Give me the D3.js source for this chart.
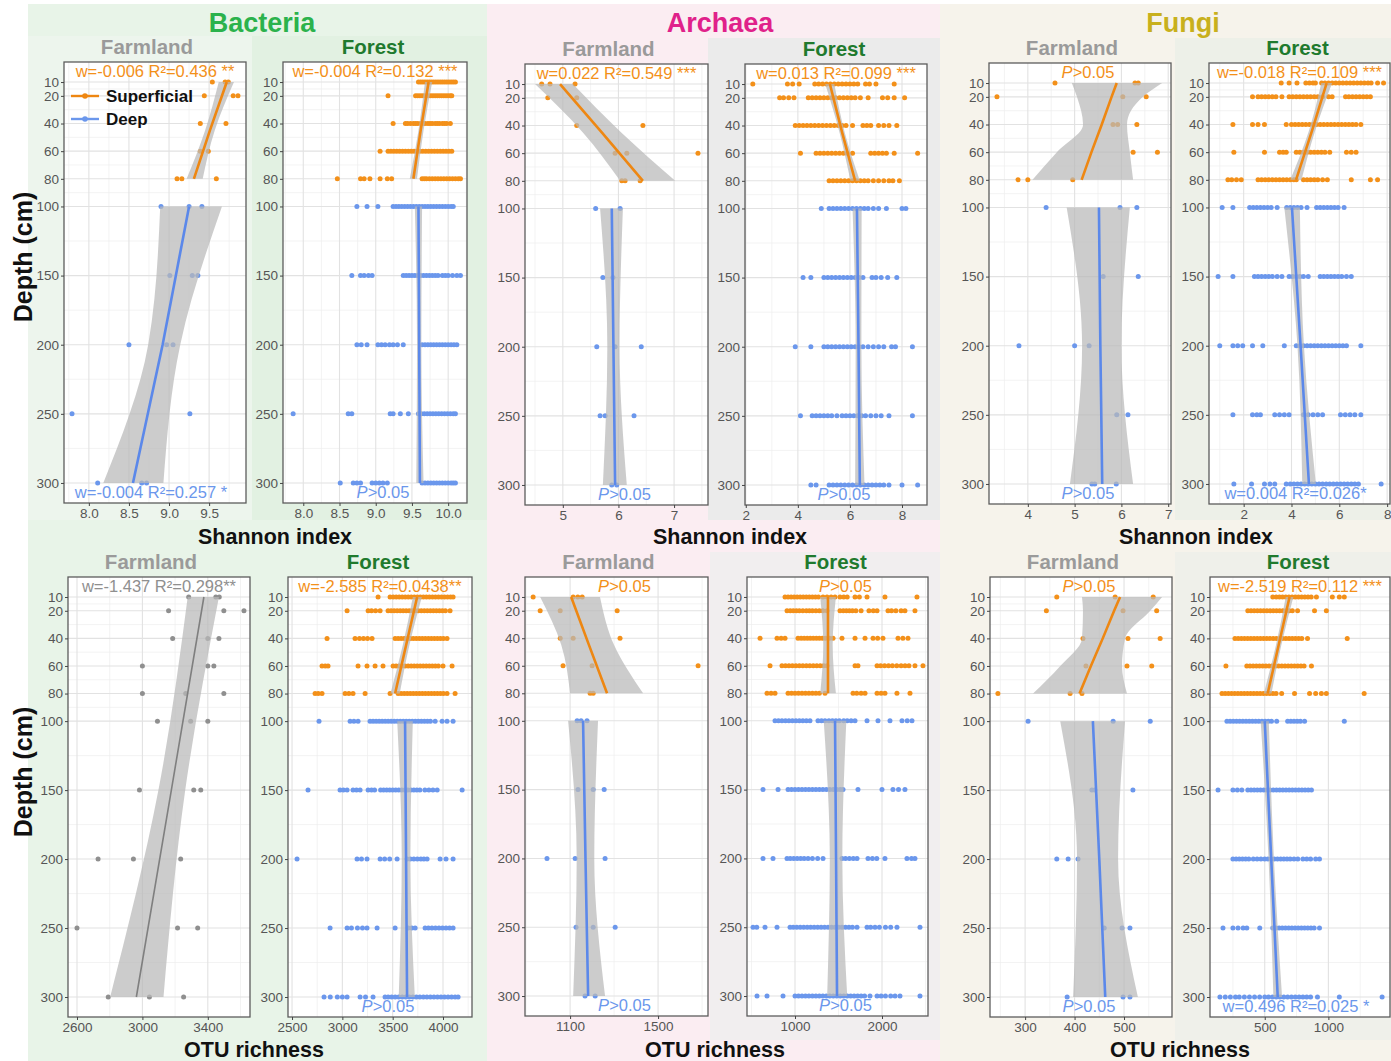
<!DOCTYPE html>
<html>
<head>
<meta charset="utf-8">
<script src="https://cdn.jsdelivr.net/npm/d3@7"></script>
<style>
  body { margin: 0; background: #ffffff; }
  svg { display: block; }
  text { font-family: "Liberation Sans", Arial, Helvetica, sans-serif; }
</style>
</head>
<body>
<svg id="chart" width="1391" height="1061"></svg>
<script>
// ---------------------------------------------------------------
// Sampling depths (cm); every point array below has one row per depth
// ---------------------------------------------------------------
const depthBreaks = [10, 20, 40, 60, 80, 100, 150, 200, 250, 300];
const depthMinor = [15, 30, 50, 70, 90, 125, 175, 225, 275];

// ---------------- Shannon index ----------------
const bacFarmShannon = [
  [9.54, 9.70, 9.74], [9.44, 9.80, 9.86], [9.39, 9.71], [9.39, 9.49], [9.10, 9.16, 9.59],
  [8.90, 9.25, 9.41], [9.01, 9.29, 9.36], [8.50, 8.97, 9.05], [7.79, 9.26], [8.11, 8.66, 8.72]
];
const bacForestShannon = [
  [9.59,9.62,9.65,9.68,9.71,9.74,9.77,9.80,9.83,9.86,9.89,9.92,9.95,9.98,10.01,10.04,10.07,10.10],
  [9.17,9.55,9.58,9.61,9.64,9.67,9.70,9.73,9.76,9.79,9.82,9.85,9.88,9.91,9.94,9.97,10.00,10.03,10.05],
  [9.24,9.41,9.44,9.48,9.52,9.55,9.58,9.62,9.65,9.68,9.72,9.75,9.78,9.82,9.85,9.88,9.92,9.95,9.98,10.03],
  [9.06,9.17,9.21,9.25,9.29,9.33,9.37,9.41,9.45,9.49,9.53,9.57,9.61,9.65,9.69,9.73,9.77,9.81,9.85,9.89,9.93,9.97,10.01,10.05],
  [8.47,8.79,8.84,8.92,9.06,9.16,9.22,9.64,9.67,9.70,9.74,9.78,9.82,9.86,9.90,9.94,9.98,10.02,10.06,10.10,10.14,10.17],
  [8.74,8.88,9.03,9.24,9.28,9.32,9.36,9.40,9.44,9.48,9.52,9.56,9.60,9.64,9.68,9.72,9.76,9.80,9.84,9.88,9.92,9.96,10.00,10.04,10.07],
  [8.67,8.79,8.84,8.90,8.95,9.38,9.42,9.46,9.50,9.54,9.58,9.62,9.66,9.70,9.74,9.78,9.82,9.86,9.92,9.96,10.00,10.06,10.12,10.17],
  [8.74,8.80,8.88,9.03,9.08,9.13,9.19,9.24,9.30,9.38,9.64,9.68,9.72,9.76,9.80,9.84,9.88,9.92,9.96,10.00,10.04,10.08,10.12],
  [7.86,8.62,8.67,9.20,9.24,9.34,9.45,9.59,9.63,9.67,9.71,9.75,9.79,9.83,9.87,9.91,9.95,9.99,10.03,10.07,10.10],
  [8.51,8.69,8.74,8.79,8.95,9.00,9.05,9.10,9.16,9.64,9.68,9.72,9.76,9.80,9.84,9.88,9.92,9.96,10.00,10.04,10.07,10.10]
];
const archFarmShannon = [
  [4.62, 4.77, 5.22], [4.73, 5.25], [5.25, 6.44], [5.94, 6.15, 7.43], [6.06, 6.12, 6.39],
  [5.59, 6.03], [5.72, 5.90], [5.61, 5.94, 6.41], [5.67, 5.76, 6.28], [5.88, 5.97]
];
const archForestShannon = [
  [2.27,3.60,3.80,4.05,4.65,4.80,4.95,5.10,5.25,5.40,5.55,5.70,5.85,6.00,6.15,6.30,6.60,6.75,7.00,7.70],
  [3.30,3.45,3.65,3.85,4.40,4.55,4.70,4.85,5.00,5.15,5.30,5.45,5.60,5.75,5.90,6.05,6.20,6.40,6.70,7.25,7.45,7.70,8.10],
  [3.90,4.05,4.20,4.35,4.50,4.65,4.80,4.95,5.10,5.25,5.40,5.55,5.70,5.85,6.10,6.50,6.65,6.80,7.10,7.30,7.50,7.80],
  [4.10,4.70,4.85,5.00,5.15,5.30,5.45,5.60,5.75,5.90,6.10,6.80,6.95,7.10,7.25,7.40,7.70,8.60],
  [5.20,5.35,5.50,5.65,5.80,5.95,6.10,6.25,6.40,6.55,6.70,6.90,7.10,7.30,7.50,7.65,7.90],
  [4.90,5.20,5.35,5.50,5.65,5.80,5.95,6.10,6.25,6.40,6.55,6.70,6.90,7.10,7.40,8.00,8.15],
  [4.20,4.50,5.00,5.15,5.30,5.45,5.60,5.75,5.90,6.05,6.20,6.35,6.50,6.85,7.00,7.20,7.45,7.80],
  [3.90,4.50,5.00,5.15,5.30,5.45,5.60,5.75,5.90,6.05,6.20,6.35,6.50,6.70,6.90,7.10,7.30,7.60,7.75,8.40],
  [4.10,4.55,4.70,4.85,5.00,5.15,5.30,5.50,5.70,5.85,6.00,6.15,6.30,6.45,6.60,6.80,7.00,7.20,7.50,8.40],
  [4.50,4.70,5.20,5.35,5.50,5.65,5.80,5.95,6.10,6.25,6.40,6.55,6.70,6.85,7.00,7.15,7.30,7.50,8.00,8.60]
];
const fungiFarmShannon = [
  [4.58, 6.29, 6.36], [3.34, 6.03, 6.53], [5.82, 5.92, 6.33], [6.25, 6.77], [3.79, 4.00, 4.96],
  [4.39, 5.97, 6.33], [5.61, 6.36], [3.81, 5.00, 5.31], [5.90, 6.14], [5.37, 5.43, 5.89]
];
const fungiForestShannon = [
  [3.57,3.90,4.23,4.60,4.75,4.90,5.00,5.26,5.40,5.55,5.70,5.85,6.00,6.15,6.30,6.45,6.60,6.75,6.90,7.05,7.20,7.33,7.60,7.85],
  [2.37,2.60,2.75,2.90,3.05,3.20,3.35,3.60,3.90,4.05,4.20,4.35,4.50,4.65,4.80,4.95,5.10,5.30,5.55,5.70,6.26,6.40,6.55,6.70,6.85,7.00,7.15,7.30],
  [1.55,2.37,2.60,2.87,3.78,4.00,4.15,4.30,4.45,4.60,4.75,4.90,5.05,5.20,5.35,5.50,5.65,5.80,5.95,6.10,6.25,6.40,6.55,6.70,6.90],
  [1.59,2.87,3.50,3.65,3.78,4.20,4.35,4.50,4.65,4.80,4.95,5.10,5.25,5.40,5.60,6.30,6.50,6.70],
  [1.34,1.50,1.70,1.90,2.60,2.75,2.90,3.05,3.20,3.35,3.50,3.65,3.80,3.95,4.10,4.20,4.50,4.65,4.80,4.95,5.10,5.30,5.50,6.50,7.30,7.60],
  [1.10,1.55,2.25,2.40,2.55,2.70,2.85,3.00,3.15,3.40,3.80,3.95,4.10,4.25,4.40,4.65,5.05,5.20,5.35,5.50,5.65,5.80,5.95,6.20],
  [0.93,1.55,2.45,2.60,2.75,2.90,3.05,3.20,3.40,3.60,3.90,4.05,4.20,4.35,4.50,4.70,5.20,5.35,5.50,5.65,5.80,5.95,6.10,6.30,6.50],
  [1.00,1.55,1.75,1.96,2.37,2.80,3.70,4.20,4.35,4.50,4.65,4.80,4.95,5.10,5.25,5.40,5.55,5.70,5.85,6.00,6.15,6.30,6.90],
  [1.55,2.37,2.55,2.70,3.30,3.50,3.70,3.90,4.50,4.70,4.90,5.10,5.30,6.05,6.25,6.45,6.65,6.90],
  [1.59,2.33,2.87,3.10,3.30,3.78,3.95,4.10,4.25,4.40,4.55,4.70,4.85,5.00,5.15,5.30,5.45,5.60,5.75,5.90,6.05,6.20,6.35,6.50,6.65,6.80,7.75]
];

// ---------------- OTU richness ----------------
const bacFarmOTU = [
  [3283, 3449, 3470], [3160, 3498, 3621], [3185, 3400, 3468], [3000, 3400, 3437], [3000, 3265, 3498],
  [3092, 3295, 3400], [2982, 3314, 3357], [2729, 2945, 3234], [2600, 3215, 3338], [2791, 3043, 3252]
];
const bacForestOTU = [
  [3355,3474,3505,3535,3565,3595,3625,3655,3685,3715,3745,3775,3805,3835,3865,3895,3925,3955,3985,4015,4045,4075,4100],
  [3047,3256,3290,3330,3375,3454,3484,3514,3544,3574,3604,3634,3664,3694,3724,3754,3784,3814,3844,3874,3904,3934,3964,3994,4024,4070],
  [2848,3126,3170,3210,3250,3295,3524,3554,3584,3614,3644,3674,3704,3734,3764,3794,3824,3854,3884,3914,3944,3974,4004,4040],
  [2798,2830,2858,3156,3245,3325,3404,3504,3534,3564,3594,3624,3654,3684,3714,3744,3774,3804,3834,3864,3894,3924,3954,4000,4090],
  [2729,2760,2798,3027,3065,3106,3226,3474,3554,3584,3614,3644,3674,3704,3734,3764,3794,3824,3854,3884,3914,3944,3974,4004,4040,4120],
  [2768,3077,3115,3156,3275,3305,3335,3365,3395,3425,3455,3485,3515,3545,3575,3605,3635,3665,3695,3725,3755,3785,3815,3845,3875,3922,3991,4040,4100],
  [2659,2977,3010,3047,3106,3140,3176,3256,3290,3320,3380,3410,3440,3470,3500,3530,3560,3590,3620,3650,3680,3710,3740,3770,3820,3860,3900,3942,4190],
  [2550,3146,3190,3245,3375,3420,3470,3544,3643,3675,3710,3745,3780,3810,3842,3971,4030,4100],
  [2878,3047,3090,3150,3200,3245,3345,3524,3653,3690,3723,3822,3855,3890,3925,3960,3995,4030,4065,4100],
  [2818,2880,2950,3000,3047,3176,3230,3305,3424,3455,3490,3525,3560,3595,3630,3665,3700,3735,3770,3805,3840,3875,3910,3945,3980,4015,4050,4085,4120,4150]
];
const archFarmOTU = [
  [932, 1114, 1135, 1155], [964, 1055, 1314], [1055, 1114, 1327], [1068, 1200, 1682], [1191, 1205],
  [1132, 1150, 1177], [1136, 1205, 1255], [995, 1123, 1259], [1127, 1205, 1305], [1168, 1214]
];
const archForestOTU = [
  [885,920,955,990,1025,1060,1095,1130,1165,1200,1235,1270,1322,1368,1415,1460,1517,1560,1600,1690,1740,1828,2034,2402],
  [908,945,980,1015,1050,1090,1130,1165,1200,1240,1280,1320,1368,1517,1555,1590,1625,1660,1700,1760,1850,1900,1943,2069,2110,2160,2220,2264,2379],
  [598,793,840,885,1034,1070,1105,1140,1175,1210,1245,1280,1315,1350,1395,1437,1540,1690,1805,1897,1950,2011,2184,2240,2299],
  [713,850,890,930,970,1010,1050,1090,1130,1170,1210,1250,1290,1330,1368,1690,1724,1943,1985,2030,2075,2120,2170,2220,2265,2310,2379,2471],
  [678,725,770,920,960,1000,1040,1080,1120,1160,1200,1240,1280,1345,1667,1710,1760,1805,1943,1990,2034,2172,2322],
  [770,810,850,890,930,970,1010,1050,1090,1130,1172,1264,1305,1345,1390,1430,1470,1510,1560,1600,1645,1690,1828,1954,2092,2230,2290,2345],
  [632,805,920,960,1000,1040,1080,1120,1160,1200,1240,1280,1320,1360,1400,1440,1480,1520,1552,1724,2000,2126,2190,2264],
  [632,747,908,945,985,1025,1065,1105,1150,1200,1260,1322,1540,1580,1625,1670,1713,1839,1890,1940,2034,2287,2340,2379],
  [517,560,655,793,943,980,1020,1060,1100,1140,1180,1220,1260,1300,1340,1380,1420,1460,1500,1540,1580,1620,1660,1713,1828,1870,1920,1970,2040,2100,2172,2437],
  [563,678,862,1000,1040,1080,1120,1160,1200,1240,1280,1320,1360,1400,1440,1480,1520,1560,1600,1640,1680,1720,1760,1800,1862,1943,1990,2040,2100,2150,2207,2437]
];
const fungiFarmOTU = [
  [364, 482, 559], [343, 498, 566], [417, 508, 573], [423, 506, 556], [245, 391, 415],
  [306, 478, 553], [435, 441, 518], [364, 387, 407], [460, 496, 512], [385, 498, 512]
];
const fungiForestOTU = [
  [563,590,615,640,665,690,715,740,765,790,815,840,865,906,1031,1086,1125],
  [367,392,417,442,467,492,517,542,567,592,617,642,667,692,717,758,891,984],
  [266,291,316,341,366,391,416,441,466,491,516,541,566,591,616,641,666,691,716,741,766,791,836,1148],
  [195,359,384,409,434,459,484,509,534,559,584,609,634,659,684,709,734,759,784,809,867],
  [164,189,214,239,264,289,314,339,364,389,414,439,464,489,514,539,564,589,633,734,852,900,945,984,1281],
  [203,228,253,278,303,328,353,378,403,428,453,478,503,528,553,594,680,705,730,755,780,813,1125],
  [133,250,285,320,367,392,417,442,467,492,517,542,567,592,617,642,667,692,717,742,767,792,817,842,867],
  [250,275,300,325,350,375,410,440,470,500,525,550,575,600,625,650,675,700,730,760,800,830,860,900,930],
  [172,250,290,330,359,461,563,588,613,638,663,688,713,738,763,788,813,838,863,888,930],
  [148,190,230,270,300,340,380,420,460,500,530,560,590,620,650,680,710,740,770,800,830,860,914,1086,1422]
];

// Linear fits with 95% confidence band: [layer, depth, fit, lower, upper]
const bacFarmShannonFit = [
  ["sup", 10, 9.72, 9.62, 9.81], ["sup", 45, 9.51, 9.45, 9.57], ["sup", 80, 9.31, 9.22, 9.42],
  ["deep", 100, 9.25, 8.89, 9.66], ["deep", 200, 8.92, 8.74, 9.14], ["deep", 300, 8.55, 8.18, 8.93]
];
const bacForestShannonFit = [
  ["sup", 10, 9.73, 9.68, 9.78], ["sup", 45, 9.62, 9.59, 9.66], ["sup", 80, 9.52, 9.47, 9.57],
  ["deep", 100, 9.59, 9.54, 9.64], ["deep", 200, 9.60, 9.57, 9.63], ["deep", 300, 9.61, 9.56, 9.66]
];
const archFarmShannonFit = [
  ["sup", 10, 4.95, 4.50, 5.18], ["sup", 45, 5.70, 5.36, 6.05], ["sup", 80, 6.44, 6.03, 7.02],
  ["deep", 100, 5.88, 5.67, 6.08], ["deep", 200, 5.91, 5.80, 6.02], ["deep", 300, 5.94, 5.72, 6.15]
];
const archForestShannonFit = [
  ["sup", 10, 5.23, 5.05, 5.40], ["sup", 45, 5.70, 5.60, 5.80], ["sup", 80, 6.20, 6.02, 6.38],
  ["deep", 100, 6.27, 6.10, 6.45], ["deep", 200, 6.33, 6.22, 6.44], ["deep", 300, 6.38, 6.20, 6.56]
];
const fungiFarmShannonFit = [
  ["sup", 10, 5.90, 4.94, 6.87], ["sup", 20, 5.79, 5.05, 6.46], ["sup", 40, 5.58, 5.18, 6.12],
  ["sup", 60, 5.36, 4.62, 6.18], ["sup", 80, 5.15, 4.10, 6.25],
  ["deep", 100, 5.52, 4.83, 6.18], ["deep", 200, 5.55, 5.16, 6.00], ["deep", 300, 5.59, 4.90, 6.25]
];
const fungiForestShannonFit = [
  ["sup", 10, 5.47, 5.25, 5.70], ["sup", 45, 4.85, 4.72, 4.98], ["sup", 80, 4.19, 3.95, 4.42],
  ["deep", 100, 4.02, 3.70, 4.35], ["deep", 200, 4.38, 4.25, 4.52], ["deep", 300, 4.73, 4.45, 5.02]
];
const bacFarmOTUFit = [
  ["all", 10, 3376, 3277, 3468], ["all", 150, 3177, 3098, 3262], ["all", 300, 2963, 2803, 3129]
];
const bacForestOTUFit = [
  ["sup", 10, 3743, 3700, 3790], ["sup", 45, 3633, 3600, 3666], ["sup", 80, 3524, 3478, 3570],
  ["deep", 100, 3623, 3545, 3700], ["deep", 200, 3633, 3590, 3676], ["deep", 300, 3643, 3560, 3720]
];
const archFarmOTUFit = [
  ["sup", 10, 1105, 964, 1236], ["sup", 45, 1186, 1060, 1300], ["sup", 80, 1268, 1100, 1432],
  ["deep", 100, 1159, 1091, 1227], ["deep", 200, 1170, 1130, 1210], ["deep", 300, 1182, 1114, 1259]
];
const archForestOTUFit = [
  ["sup", 10, 1379, 1290, 1470], ["sup", 45, 1379, 1325, 1433], ["sup", 80, 1379, 1290, 1470],
  ["deep", 100, 1460, 1330, 1590], ["deep", 200, 1472, 1400, 1544], ["deep", 300, 1483, 1370, 1600]
];
const fungiFarmOTUFit = [
  ["sup", 10, 492, 415, 577], ["sup", 20, 480, 417, 553], ["sup", 40, 457, 415, 502],
  ["sup", 60, 433, 371, 496], ["sup", 80, 410, 316, 506],
  ["deep", 100, 437, 371, 502], ["deep", 200, 450, 405, 488], ["deep", 300, 462, 397, 528]
];
const fungiForestOTUFit = [
  ["sup", 10, 695, 665, 725], ["sup", 45, 609, 588, 630], ["sup", 80, 523, 493, 553],
  ["deep", 100, 500, 468, 532], ["deep", 200, 551, 530, 572], ["deep", 300, 602, 568, 636]
];

// Axis limits and tick labels, panel order: top row (Shannon) then bottom row (OTU)
const xDomains = [
  [7.69, 9.96], [7.72, 10.26], [4.32, 7.61], [1.97, 8.96], [3.17, 7.06], [0.55, 8.12],
  [2545, 3658], [2460, 4288], [895, 1727], [448, 2529], [229, 597], [70, 1484]
];
const xTickValues = [
  [8.0, 8.5, 9.0, 9.5], [8.0, 8.5, 9.0, 9.5, 10.0], [5, 6, 7], [2, 4, 6, 8], [4, 5, 6, 7], [2, 4, 6, 8],
  [2600, 3000, 3400], [2500, 3000, 3500, 4000], [1100, 1500], [1000, 2000], [300, 400, 500], [500, 1000]
];

// Regression statistics printed in each panel
const statsUpper = [
  "w=-0.006 R²=0.436 **", "w=-0.004 R²=0.132 ***", "w=0.022 R²=0.549 ***",
  "w=0.013 R²=0.099 ***", "P>0.05", "w=-0.018 R²=0.109 ***",
  "w=-1.437 R²=0.298**", "w=-2.585 R²=0.0438**", "P>0.05",
  "P>0.05", "P>0.05", "w=-2.519 R²=0.112 ***"
];
const statsLower = [
  "w=-0.004 R²=0.257 *", "P>0.05", "P>0.05", "P>0.05", "P>0.05", "w=0.004 R²=0.026*",
  "", "P>0.05", "P>0.05", "P>0.05", "P>0.05", "w=0.496 R²=0.025 *"
];

const groupTitles = ["Bacteria", "Archaea", "Fungi"];
const landUseTitles = ["Farmland", "Forest"];
const metricTitles = ["Shannon index", "OTU richness"];
const layerNames = ["Superficial", "Deep"];

const pointSets = [bacFarmShannon, bacForestShannon, archFarmShannon, archForestShannon, fungiFarmShannon, fungiForestShannon,
                   bacFarmOTU, bacForestOTU, archFarmOTU, archForestOTU, fungiFarmOTU, fungiForestOTU];
const fitSets = [bacFarmShannonFit, bacForestShannonFit, archFarmShannonFit, archForestShannonFit, fungiFarmShannonFit, fungiForestShannonFit,
                 bacFarmOTUFit, bacForestOTUFit, archFarmOTUFit, archForestOTUFit, fungiFarmOTUFit, fungiForestOTUFit];

// ---------------------------------------------------------------
// Layout and styling
// ---------------------------------------------------------------
const boxes = [
  { x0: 64,   x1: 246,  y0: 62,  y1: 503 },
  { x0: 283,  x1: 467,  y0: 62,  y1: 503 },
  { x0: 525,  x1: 708,  y0: 64,  y1: 505 },
  { x0: 745,  x1: 927,  y0: 64,  y1: 505 },
  { x0: 989,  x1: 1171, y0: 63,  y1: 504 },
  { x0: 1209, x1: 1390, y0: 63,  y1: 504 },
  { x0: 68,   x1: 250,  y0: 577, y1: 1017 },
  { x0: 288,  x1: 472,  y0: 577, y1: 1017 },
  { x0: 525,  x1: 708,  y0: 577, y1: 1016 },
  { x0: 747,  x1: 928,  y0: 577, y1: 1016 },
  { x0: 990,  x1: 1172, y0: 577, y1: 1017 },
  { x0: 1210, x1: 1390, y0: 577, y1: 1017 }
];
const colors = {
  sup: "#f39019", deep: "#6b97ec", all: "#8f8f8f",
  supLine: "#ee8712", deepLine: "#5b88ea", allLine: "#7f7f7f",
  band: "#b9b9b9", grid: "#e2e2e2", gridMinor: "#eeeeee", border: "#5c5c5c",
  tick: "#555555", farmland: "#9a9a9a", forest: "#1f7a2e",
  titles: ["#2bb24c", "#e0218a", "#c8b01c"]
};
const backgrounds = [
  { x: 28,   y: 4,   w: 459, h: 1057, fill: "#e8f4e8" },
  { x: 487,  y: 4,   w: 453, h: 1057, fill: "#fbedf2" },
  { x: 940,  y: 4,   w: 451, h: 1057, fill: "#f6f3eb" },
  { x: 28,   y: 36,  w: 224, h: 484,  fill: "#edf5ed" },
  { x: 252,  y: 36,  w: 235, h: 484,  fill: "#e2f1e2" },
  { x: 708,  y: 38,  w: 232, h: 482,  fill: "#ebebeb" },
  { x: 1175, y: 38,  w: 216, h: 482,  fill: "#edf0e8" },
  { x: 710,  y: 552, w: 230, h: 488,  fill: "#f1eeef" },
  { x: 1175, y: 552, w: 216, h: 488,  fill: "#eff0ea" }
];

const svg = d3.select("#chart");
svg.append("rect").attr("width", 1391).attr("height", 1061).attr("fill", "#ffffff");
svg.selectAll("rect.bg").data(backgrounds).join("rect").attr("class", "bg")
  .attr("x", d => d.x).attr("y", d => d.y).attr("width", d => d.w).attr("height", d => d.h)
  .attr("fill", d => d.fill);

const defs = svg.append("defs");

function statText(sel, str, color) {
  if (str.startsWith("P>")) {
    sel.append("tspan").attr("font-style", "italic").text("P");
    sel.append("tspan").text(str.slice(1));
  } else {
    sel.text(str);
  }
  sel.attr("fill", color);
}

pointSets.forEach((rows, i) => {
  const b = boxes[i];
  const fits = fitSets[i];
  const pooled = fits[0][0] === "all";
  const x = d3.scaleLinear().domain(xDomains[i]).range([b.x0, b.x1]);
  const y = d3.scaleLinear().domain([-4.5, 314.5]).range([b.y0, b.y1]);
  const g = svg.append("g");

  defs.append("clipPath").attr("id", "clip" + i)
    .append("rect").attr("x", b.x0).attr("y", b.y0).attr("width", b.x1 - b.x0).attr("height", b.y1 - b.y0);

  g.append("rect").attr("x", b.x0).attr("y", b.y0).attr("width", b.x1 - b.x0).attr("height", b.y1 - b.y0)
    .attr("fill", "#ffffff");

  // grid lines
  const ticks = xTickValues[i];
  const step = ticks.length > 1 ? ticks[1] - ticks[0] : 1;
  const xMinor = [];
  for (let k = -1; k < ticks.length; k++) {
    const m = ticks[0] + (k + 0.5) * step;
    if (m > xDomains[i][0] && m < xDomains[i][1]) xMinor.push(m);
  }
  const xMajorAll = [];
  for (let k = -1; k <= ticks.length; k++) {
    const m = ticks[0] + k * step;
    if (m > xDomains[i][0] && m < xDomains[i][1]) xMajorAll.push(m);
  }
  const grid = g.append("g");
  grid.selectAll("line.ym").data(depthMinor).join("line")
    .attr("x1", b.x0).attr("x2", b.x1).attr("y1", d => y(d)).attr("y2", d => y(d))
    .attr("stroke", colors.gridMinor).attr("stroke-width", 0.7);
  grid.selectAll("line.xm").data(xMinor).join("line")
    .attr("y1", b.y0).attr("y2", b.y1).attr("x1", d => x(d)).attr("x2", d => x(d))
    .attr("stroke", colors.gridMinor).attr("stroke-width", 0.7);
  grid.selectAll("line.yM").data(depthBreaks).join("line")
    .attr("x1", b.x0).attr("x2", b.x1).attr("y1", d => y(d)).attr("y2", d => y(d))
    .attr("stroke", colors.grid).attr("stroke-width", 1.1);
  grid.selectAll("line.xM").data(xMajorAll).join("line")
    .attr("y1", b.y0).attr("y2", b.y1).attr("x1", d => x(d)).attr("x2", d => x(d))
    .attr("stroke", colors.grid).attr("stroke-width", 1.1);

  // points
  const pts = [];
  rows.forEach((vals, r) => vals.forEach(v => pts.push({ depth: depthBreaks[r], v })));
  const plot = g.append("g").attr("clip-path", "url(#clip" + i + ")");
  plot.selectAll("circle").data(pts).join("circle")
    .attr("cx", d => x(d.v)).attr("cy", d => y(d.depth)).attr("r", 2.5)
    .attr("fill", d => pooled ? colors.all : (d.depth <= 80 ? colors.sup : colors.deep));

  // fitted lines with confidence bands
  const layers = d3.groups(fits, d => d[0]);
  const area = d3.area().y(d => y(d[1])).x0(d => x(d[3])).x1(d => x(d[4])).curve(d3.curveMonotoneY);
  const line = d3.line().y(d => y(d[1])).x(d => x(d[2]));
  layers.forEach(([key, segs]) => {
    plot.append("path").attr("d", area(segs)).attr("fill", colors.band).attr("fill-opacity", 0.72);
  });
  layers.forEach(([key, segs]) => {
    plot.append("path").attr("d", line(segs)).attr("fill", "none")
      .attr("stroke", colors[key + "Line"]).attr("stroke-width", key === "all" ? 1.6 : 2.6);
  });

  // panel border
  g.append("rect").attr("x", b.x0).attr("y", b.y0).attr("width", b.x1 - b.x0).attr("height", b.y1 - b.y0)
    .attr("fill", "none").attr("stroke", colors.border).attr("stroke-width", 1.3);

  // axes
  const fmt = (i < 2) ? d3.format(".1f") : d3.format("d");
  const ax = g.append("g").attr("transform", `translate(0,${b.y1})`)
    .call(d3.axisBottom(x).tickValues(ticks).tickFormat(fmt).tickSize(3).tickPadding(2));
  const ay = g.append("g").attr("transform", `translate(${b.x0},0)`)
    .call(d3.axisLeft(y).tickValues(depthBreaks).tickSize(3).tickPadding(2));
  [ax, ay].forEach(a => {
    a.select(".domain").remove();
    a.selectAll(".tick line").attr("stroke", "#444").attr("stroke-width", 1);
    a.selectAll(".tick text").attr("fill", colors.tick).attr("font-size", 13.5)
      .attr("font-family", "'Liberation Sans', Arial, sans-serif");
  });

  // statistics
  const cx = (b.x0 + b.x1) / 2;
  const upColor = pooled ? colors.all : colors.sup;
  const up = g.append("text").attr("x", cx + (statsUpper[i].startsWith("P>") ? 8 : 0)).attr("y", b.y0 + 15)
    .attr("text-anchor", "middle").attr("font-size", 16.5);
  statText(up, statsUpper[i], upColor);
  if (statsLower[i]) {
    const lo = g.append("text").attr("x", cx + (statsLower[i].startsWith("P>") ? 8 : -4)).attr("y", b.y1 - 5)
      .attr("text-anchor", "middle").attr("font-size", 16.5);
    statText(lo, statsLower[i], colors.deep);
  }

  // land-use subtitle
  const isForest = i % 2 === 1;
  svg.append("text").attr("x", cx - (isForest ? 2 : 8)).attr("y", b.y0 - 8)
    .attr("text-anchor", "middle").attr("font-size", 20.5).attr("font-weight", "bold")
    .attr("fill", isForest ? colors.forest : colors.farmland)
    .text(landUseTitles[isForest ? 1 : 0]);
});

// group titles
const titleX = [262, 720, 1183];
groupTitles.forEach((t, k) => {
  svg.append("text").attr("x", titleX[k]).attr("y", 32).attr("text-anchor", "middle")
    .attr("font-size", 27).attr("font-weight", "bold").attr("fill", colors.titles[k]).text(t);
});

// metric axis titles
const metricX = [[275, 730, 1196], [254, 715, 1180]];
const metricY = [544, 1057];
metricTitles.forEach((t, r) => {
  metricX[r].forEach(mx => {
    svg.append("text").attr("x", mx).attr("y", metricY[r]).attr("text-anchor", "middle")
      .attr("font-size", 21.5).attr("font-weight", "bold").attr("fill", "#111").text(t);
  });
});

// depth axis titles
[257, 772].forEach(cy => {
  svg.append("text").attr("transform", `translate(32,${cy}) rotate(-90)`)
    .attr("text-anchor", "middle").attr("font-size", 25).attr("font-weight", "bold")
    .attr("fill", "#111").text("Depth (cm)");
});

// legend inside the first panel
const legend = svg.append("g");
const legendY = [96, 119];
layerNames.forEach((name, k) => {
  const c = k === 0 ? colors.supLine : colors.deep;
  legend.append("line").attr("x1", 71).attr("x2", 99).attr("y1", legendY[k]).attr("y2", legendY[k])
    .attr("stroke", c).attr("stroke-width", 2.4);
  legend.append("circle").attr("cx", 85).attr("cy", legendY[k]).attr("r", 2.8).attr("fill", c);
  legend.append("text").attr("x", 106).attr("y", legendY[k] + 6).attr("font-size", 17)
    .attr("font-weight", "bold").attr("fill", "#111").text(name);
});
</script>
</body>
</html>
